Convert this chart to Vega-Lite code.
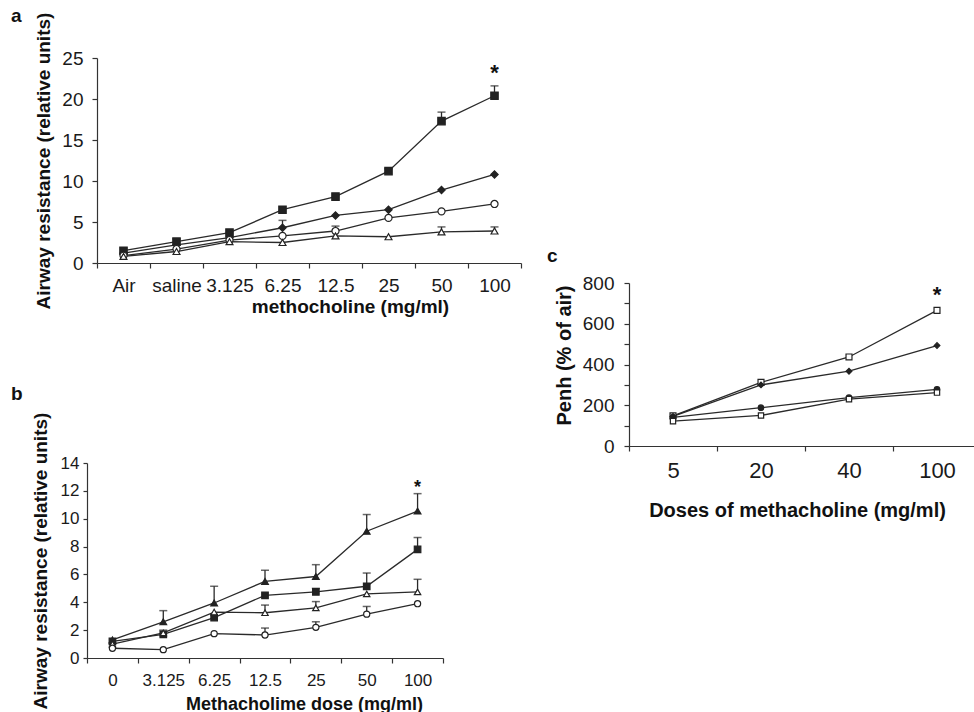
{
  "$schema": "https://vega.github.io/schema/vega-lite/v6.json",
  "padding": {"left": 4, "top": 7, "right": 0, "bottom": 0},
  "background": "white",
  "config": {
    "font": "Liberation Sans",
    "view": {"stroke": null},
    "axis": {"grid": false, "domainColor": "#333", "tickColor": "#333", "labelColor": "#1a1a1a", "titleColor": "#111", "domainWidth": 1.2, "tickWidth": 1.2}
  },
  "datasets": {
    "aData": [
      {"group": "S1", "dose": "Air", "value": 1.5, "err": null},
      {"group": "S1", "dose": "saline", "value": 2.6, "err": 2.95},
      {"group": "S1", "dose": "3.125", "value": 3.7, "err": null},
      {"group": "S1", "dose": "6.25", "value": 6.5, "err": null},
      {"group": "S1", "dose": "12.5", "value": 8.1, "err": null},
      {"group": "S1", "dose": "25", "value": 11.2, "err": 11.5},
      {"group": "S1", "dose": "50", "value": 17.3, "err": 18.4},
      {"group": "S1", "dose": "100", "value": 20.4, "err": 21.6},
      {"group": "S2", "dose": "Air", "value": 1.2, "err": null},
      {"group": "S2", "dose": "saline", "value": 2.2, "err": null},
      {"group": "S2", "dose": "3.125", "value": 3.1, "err": null},
      {"group": "S2", "dose": "6.25", "value": 4.3, "err": 5.2},
      {"group": "S2", "dose": "12.5", "value": 5.8, "err": null},
      {"group": "S2", "dose": "25", "value": 6.5, "err": null},
      {"group": "S2", "dose": "50", "value": 8.9, "err": null},
      {"group": "S2", "dose": "100", "value": 10.8, "err": null},
      {"group": "S3", "dose": "Air", "value": 0.9, "err": null},
      {"group": "S3", "dose": "saline", "value": 1.7, "err": null},
      {"group": "S3", "dose": "3.125", "value": 2.8, "err": null},
      {"group": "S3", "dose": "6.25", "value": 3.3, "err": null},
      {"group": "S3", "dose": "12.5", "value": 3.9, "err": 4.5},
      {"group": "S3", "dose": "25", "value": 5.5, "err": null},
      {"group": "S3", "dose": "50", "value": 6.3, "err": null},
      {"group": "S3", "dose": "100", "value": 7.2, "err": null},
      {"group": "S4", "dose": "Air", "value": 0.8, "err": null},
      {"group": "S4", "dose": "saline", "value": 1.4, "err": null},
      {"group": "S4", "dose": "3.125", "value": 2.6, "err": null},
      {"group": "S4", "dose": "6.25", "value": 2.5, "err": null},
      {"group": "S4", "dose": "12.5", "value": 3.3, "err": null},
      {"group": "S4", "dose": "25", "value": 3.2, "err": null},
      {"group": "S4", "dose": "50", "value": 3.8, "err": 4.4},
      {"group": "S4", "dose": "100", "value": 3.9, "err": 4.4}
    ],
    "bData": [
      {"group": "B1", "dose": "0", "value": 1.3, "err": null},
      {"group": "B1", "dose": "3.125", "value": 2.6, "err": 3.4},
      {"group": "B1", "dose": "6.25", "value": 3.95, "err": 5.15},
      {"group": "B1", "dose": "12.5", "value": 5.5, "err": 6.3},
      {"group": "B1", "dose": "25", "value": 5.85, "err": 6.7},
      {"group": "B1", "dose": "50", "value": 9.1, "err": 10.3},
      {"group": "B1", "dose": "100", "value": 10.55, "err": 11.8},
      {"group": "B2", "dose": "0", "value": 1.2, "err": null},
      {"group": "B2", "dose": "3.125", "value": 1.7, "err": 2.0},
      {"group": "B2", "dose": "6.25", "value": 2.9, "err": null},
      {"group": "B2", "dose": "12.5", "value": 4.5, "err": null},
      {"group": "B2", "dose": "25", "value": 4.75, "err": 5.0},
      {"group": "B2", "dose": "50", "value": 5.15, "err": 6.1},
      {"group": "B2", "dose": "100", "value": 7.8, "err": 8.65},
      {"group": "B3", "dose": "0", "value": 1.0, "err": null},
      {"group": "B3", "dose": "3.125", "value": 1.8, "err": null},
      {"group": "B3", "dose": "6.25", "value": 3.3, "err": null},
      {"group": "B3", "dose": "12.5", "value": 3.25, "err": 3.8},
      {"group": "B3", "dose": "25", "value": 3.6, "err": 4.05},
      {"group": "B3", "dose": "50", "value": 4.6, "err": null},
      {"group": "B3", "dose": "100", "value": 4.75, "err": 5.65},
      {"group": "B4", "dose": "0", "value": 0.7, "err": null},
      {"group": "B4", "dose": "3.125", "value": 0.6, "err": null},
      {"group": "B4", "dose": "6.25", "value": 1.75, "err": null},
      {"group": "B4", "dose": "12.5", "value": 1.65, "err": 2.15},
      {"group": "B4", "dose": "25", "value": 2.2, "err": 2.6},
      {"group": "B4", "dose": "50", "value": 3.15, "err": 3.7},
      {"group": "B4", "dose": "100", "value": 3.9, "err": null}
    ],
    "cData": [
      {"group": "C1", "dose": "5", "value": 148},
      {"group": "C1", "dose": "20", "value": 312},
      {"group": "C1", "dose": "40", "value": 437},
      {"group": "C1", "dose": "100", "value": 666},
      {"group": "C2", "dose": "5", "value": 145},
      {"group": "C2", "dose": "20", "value": 300},
      {"group": "C2", "dose": "40", "value": 367},
      {"group": "C2", "dose": "100", "value": 493},
      {"group": "C3", "dose": "5", "value": 140},
      {"group": "C3", "dose": "20", "value": 188},
      {"group": "C3", "dose": "40", "value": 237},
      {"group": "C3", "dose": "100", "value": 278},
      {"group": "C4", "dose": "5", "value": 122},
      {"group": "C4", "dose": "20", "value": 150},
      {"group": "C4", "dose": "40", "value": 230},
      {"group": "C4", "dose": "100", "value": 262}
    ]
  },
  "hconcat": [
    {
      "vconcat": [
        {
          "hconcat": [
            {"width": 1, "height": 1, "data": {"values": [{}]}, "mark": {"type": "point", "opacity": 0}, "encoding": {}},
            {
              "width": 424, "height": 205,
              "title": {"text": "a", "anchor": "start", "frame": "group", "dx": -86, "offset": -14, "fontSize": 19, "fontWeight": "bold", "color": "#111"},
              "data": {"name": "aData"},
              "encoding": {
                "x": {"field": "dose", "type": "ordinal",
                      "scale": {"type": "band", "domain": ["Air", "saline", "3.125", "6.25", "12.5", "25", "50", "100"], "paddingInner": 0, "paddingOuter": 0},
                      "axis": {"title": "methocholine (mg/ml)", "labelAngle": 0, "labelFontSize": 19, "tickBand": "extent", "tickSize": 5, "labelPadding": 8, "titleFontSize": 19, "titleFontWeight": "bold", "titleX": 253, "titleY": 34, "titleBaseline": "top", "titleAlign": "center"}},
                "y": {"field": "value", "type": "quantitative", "title": "Airway resistance (relative units)",
                      "scale": {"domain": [0, 25], "nice": false},
                      "axis": {"values": [0, 5, 10, 15, 20, 25], "labelFontSize": 19, "tickSize": 5, "labelPadding": 9, "titleFontSize": 19, "titleFontWeight": "bold", "titlePadding": 8}}
              },
              "layer": [
                {"mark": {"type": "line", "color": "#2a2a2a", "strokeWidth": 1.3}, "encoding": {"detail": {"field": "group"}}},
                {"transform": [{"filter": "datum.err != null"}], "mark": {"type": "rule", "color": "#2a2a2a", "strokeWidth": 1.3}, "encoding": {"y2": {"field": "err"}}},
                {"transform": [{"filter": "datum.err != null"}], "mark": {"type": "tick", "color": "#2a2a2a", "thickness": 1.5, "size": 8}, "encoding": {"y": {"field": "err", "type": "quantitative", "title": "Airway resistance (relative units)"}}},
                {"mark": {"type": "point", "filled": true, "stroke": "#222", "strokeWidth": 1.2, "opacity": 1},
                 "encoding": {
                   "shape": {"field": "group", "type": "nominal", "scale": {"domain": ["S1", "S2", "S3", "S4", "B1", "B2", "B3", "B4", "C1", "C2", "C3", "C4"], "range": ["square", "diamond", "circle", "triangle-up", "triangle-up", "square", "triangle-up", "circle", "square", "diamond", "circle", "square"]}, "legend": null},
                   "fill": {"field": "group", "type": "nominal", "scale": {"domain": ["S1", "S2", "S3", "S4", "B1", "B2", "B3", "B4", "C1", "C2", "C3", "C4"], "range": ["#222", "#222", "white", "white", "#222", "#222", "white", "white", "white", "#222", "#222", "white"]}, "legend": null},
                   "size": {"field": "group", "type": "nominal", "scale": {"domain": ["S1", "S2", "S3", "S4", "B1", "B2", "B3", "B4", "C1", "C2", "C3", "C4"], "range": [55, 28, 40, 40, 45, 45, 40, 40, 35, 22, 35, 35]}, "legend": null}
                 }},
                {"data": {"values": [{"dose": "100", "value": 23.9, "t": "*"}]}, "mark": {"type": "text", "fontSize": 22, "fontWeight": "bold", "baseline": "middle", "dy": 6, "color": "#111"}, "encoding": {"text": {"field": "t"}}}
              ]
            }
          ],
          "spacing": 0
        },
        {
          "hconcat": [
            {"width": 1, "height": 1, "data": {"values": [{}]}, "mark": {"type": "point", "opacity": 0}, "encoding": {}},
            {
              "width": 356, "height": 195,
              "title": {"text": "b", "anchor": "start", "frame": "group", "dx": -76, "offset": 8, "fontSize": 19, "fontWeight": "bold", "color": "#111"},
              "data": {"name": "bData"},
              "encoding": {
                "x": {"field": "dose", "type": "ordinal",
                      "scale": {"type": "band", "domain": ["0", "3.125", "6.25", "12.5", "25", "50", "100"], "paddingInner": 0, "paddingOuter": 0},
                      "axis": {"title": "Methacholime dose (mg/ml)", "labelAngle": 0, "labelFontSize": 17, "tickBand": "extent", "tickSize": 5, "labelPadding": 9, "titleFontSize": 18, "titleFontWeight": "bold", "titleX": 217, "titleY": 37, "titleBaseline": "top", "titleAlign": "center"}},
                "y": {"field": "value", "type": "quantitative", "title": "Airway resistance (relative units)",
                      "scale": {"domain": [0, 14], "nice": false},
                      "axis": {"values": [0, 2, 4, 6, 8, 10, 12, 14], "labelFontSize": 17, "tickSize": 4, "labelPadding": 4, "titleFontSize": 19, "titleFontWeight": "bold", "titlePadding": 10}}
              },
              "layer": [
                {"mark": {"type": "line", "color": "#2a2a2a", "strokeWidth": 1.3}, "encoding": {"detail": {"field": "group"}}},
                {"transform": [{"filter": "datum.err != null"}], "mark": {"type": "rule", "color": "#2a2a2a", "strokeWidth": 1.3}, "encoding": {"y2": {"field": "err"}}},
                {"transform": [{"filter": "datum.err != null"}], "mark": {"type": "tick", "color": "#2a2a2a", "thickness": 1.5, "size": 8}, "encoding": {"y": {"field": "err", "type": "quantitative", "title": "Airway resistance (relative units)"}}},
                {"mark": {"type": "point", "filled": true, "stroke": "#222", "strokeWidth": 1.2, "opacity": 1},
                 "encoding": {
                   "shape": {"field": "group", "type": "nominal", "scale": {"domain": ["S1", "S2", "S3", "S4", "B1", "B2", "B3", "B4", "C1", "C2", "C3", "C4"], "range": ["square", "diamond", "circle", "triangle-up", "triangle-up", "square", "triangle-up", "circle", "square", "diamond", "circle", "square"]}, "legend": null},
                   "fill": {"field": "group", "type": "nominal", "scale": {"domain": ["S1", "S2", "S3", "S4", "B1", "B2", "B3", "B4", "C1", "C2", "C3", "C4"], "range": ["#222", "#222", "white", "white", "#222", "#222", "white", "white", "white", "#222", "#222", "white"]}, "legend": null},
                   "size": {"field": "group", "type": "nominal", "scale": {"domain": ["S1", "S2", "S3", "S4", "B1", "B2", "B3", "B4", "C1", "C2", "C3", "C4"], "range": [55, 28, 40, 40, 45, 45, 40, 40, 35, 22, 35, 35]}, "legend": null}
                 }},
                {"data": {"values": [{"dose": "100", "value": 12.6, "t": "*"}]}, "mark": {"type": "text", "fontSize": 18, "fontWeight": "bold", "baseline": "middle", "dy": 5, "color": "#111"}, "encoding": {"text": {"field": "t"}}}
              ]
            }
          ],
          "spacing": 0
        }
      ],
      "spacing": 69
    },
    {
      "vconcat": [
        {"width": 1, "height": 189, "data": {"values": [{}]}, "mark": {"type": "point", "opacity": 0}, "encoding": {}},
        {
          "width": 352, "height": 163,
          "title": {"text": "c", "anchor": "start", "frame": "group", "dx": -82, "offset": 8, "fontSize": 19, "fontWeight": "bold", "color": "#111"},
          "data": {"name": "cData"},
          "encoding": {
            "x": {"field": "dose", "type": "ordinal",
                  "scale": {"type": "band", "domain": ["5", "20", "40", "100"], "paddingInner": 0, "paddingOuter": 0},
                  "axis": {"title": "Doses of methacholine (mg/ml)", "labelAngle": 0, "labelFontSize": 22, "tickBand": "extent", "tickSize": 5, "labelPadding": 9, "titleFontSize": 20, "titleFontWeight": "bold", "titleX": 168, "titleY": 54, "titleBaseline": "top", "titleAlign": "center"}},
            "y": {"field": "value", "type": "quantitative", "title": "Penh (% of air)",
                  "scale": {"domain": [0, 800], "nice": false},
                  "axis": {"values": [0, 100, 200, 300, 400, 500, 600, 700, 800], "labelExpr": "datum.value % 200 === 0 ? datum.label : ''", "labelFontSize": 19, "tickSize": 5, "labelPadding": 10, "titleFontSize": 20, "titleFontWeight": "bold", "titlePadding": 8, "titleY": 72}}
          },
          "layer": [
            {"mark": {"type": "line", "color": "#2a2a2a", "strokeWidth": 1.3}, "encoding": {"detail": {"field": "group"}}},
            {"mark": {"type": "point", "filled": true, "stroke": "#222", "strokeWidth": 1.2, "opacity": 1},
             "encoding": {
               "shape": {"field": "group", "type": "nominal", "scale": {"domain": ["S1", "S2", "S3", "S4", "B1", "B2", "B3", "B4", "C1", "C2", "C3", "C4"], "range": ["square", "diamond", "circle", "triangle-up", "triangle-up", "square", "triangle-up", "circle", "square", "diamond", "circle", "square"]}, "legend": null},
               "fill": {"field": "group", "type": "nominal", "scale": {"domain": ["S1", "S2", "S3", "S4", "B1", "B2", "B3", "B4", "C1", "C2", "C3", "C4"], "range": ["#222", "#222", "white", "white", "#222", "#222", "white", "white", "white", "#222", "#222", "white"]}, "legend": null},
               "size": {"field": "group", "type": "nominal", "scale": {"domain": ["S1", "S2", "S3", "S4", "B1", "B2", "B3", "B4", "C1", "C2", "C3", "C4"], "range": [55, 28, 40, 40, 45, 45, 40, 40, 35, 22, 35, 35]}, "legend": null}
             }},
            {"data": {"values": [{"dose": "100", "value": 772, "t": "*"}]}, "mark": {"type": "text", "fontSize": 22, "fontWeight": "bold", "baseline": "middle", "dy": 6, "color": "#111"}, "encoding": {"text": {"field": "t"}}}
          ]
        }
      ],
      "spacing": 0
    }
  ],
  "spacing": 25
}
